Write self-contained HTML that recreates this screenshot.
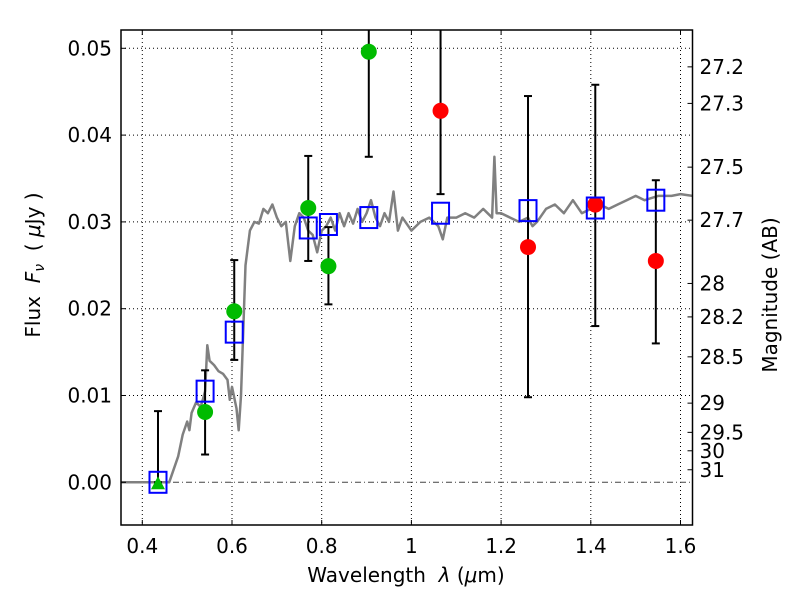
<!DOCTYPE html>
<html><head><meta charset="utf-8"><style>
html,body{margin:0;padding:0;background:#fff}
svg{display:block;font-family:"DejaVu Sans","Liberation Sans",sans-serif}
</style></head><body>
<svg id="chart" width="800" height="600" viewBox="0 0 800 600"></svg>
<script>
const xTicks=[0.4,0.6,0.8,1.0,1.2,1.4,1.6];
const xTickLabels=["0.4","0.6","0.8","1","1.2","1.4","1.6"];
const yTicks=[0,0.01,0.02,0.03,0.04,0.05];
const yTickLabels=["0.00","0.01","0.02","0.03","0.04","0.05"];
const magTicks=[27.2,27.3,27.5,27.7,28,28.2,28.5,29,29.5,30,31];
const magLabels=["27.2","27.3","27.5","27.7","28","28.2","28.5","29","29.5","30","31"];
const specWave=[0.352,0.455,0.46,0.48,0.49,0.50,0.505,0.51,0.52,0.53,0.535,0.54,0.545,0.55,0.56,0.57,0.58,0.59,0.595,0.60,0.61,0.615,0.62,0.63,0.64,0.65,0.66,0.67,0.68,0.69,0.70,0.71,0.72,0.73,0.74,0.75,0.76,0.77,0.78,0.79,0.80,0.81,0.82,0.83,0.84,0.85,0.86,0.87,0.88,0.89,0.90,0.91,0.92,0.93,0.94,0.95,0.96,0.97,0.98,1.0,1.02,1.04,1.06,1.07,1.08,1.1,1.12,1.14,1.16,1.17,1.18,1.185,1.19,1.2,1.22,1.24,1.26,1.27,1.28,1.3,1.32,1.34,1.36,1.38,1.4,1.42,1.44,1.46,1.48,1.5,1.52,1.55,1.58,1.6,1.627];
const specFlux=[0,0,0,0.003,0.0055,0.007,0.006,0.008,0.0092,0.0087,0.0095,0.0105,0.0158,0.014,0.0135,0.0128,0.0125,0.0118,0.0095,0.011,0.0085,0.006,0.010,0.025,0.029,0.030,0.0298,0.0315,0.031,0.032,0.0305,0.0295,0.030,0.0255,0.0295,0.031,0.0305,0.029,0.0285,0.0265,0.029,0.0295,0.0305,0.029,0.031,0.0295,0.031,0.0298,0.0315,0.030,0.031,0.0325,0.0305,0.0295,0.031,0.030,0.0335,0.029,0.0305,0.029,0.030,0.0305,0.0295,0.028,0.0305,0.0305,0.031,0.0305,0.0315,0.031,0.0305,0.0375,0.031,0.031,0.0305,0.030,0.0305,0.0295,0.030,0.0315,0.032,0.031,0.0325,0.031,0.0315,0.032,0.0315,0.032,0.0325,0.033,0.0325,0.033,0.033,0.0332,0.033];
const modelWave=[0.435,0.54,0.605,0.77,0.815,0.905,1.065,1.26,1.41,1.545];
const modelFlux=[0.0,0.0105,0.0173,0.0293,0.0297,0.0305,0.031,0.0313,0.0316,0.0325];
const greenWave=[0.54,0.605,0.77,0.815,0.905];
const greenFlux=[0.0081,0.0197,0.0316,0.0249,0.0496];
const greenLo=[0.0032,0.0141,0.0255,0.0205,0.0375];
const greenHi=[0.0129,0.0256,0.0376,0.0294,0.058];
const limitWave=[0.435];
const limitFlux=[0.0];
const limitHi=[0.0082];
const redWave=[1.065,1.26,1.41,1.545];
const redFlux=[0.0428,0.0271,0.032,0.0255];
const redLo=[0.0332,0.0098,0.018,0.016];
const redHi=[0.058,0.0445,0.0458,0.0348];

const L=121,R=692.5,T=30,B=525;
const X=v=>142.3+(v-0.4)*448.5;
const Y=v=>482.3-v*8680;
const magToFlux=m=>Math.pow(10,(23.9-m)/2.5);
const svg=document.getElementById('chart');
const NS='http://www.w3.org/2000/svg';
function mk(tag,attrs,parent){const e=document.createElementNS(NS,tag);for(const k in attrs)e.setAttribute(k,attrs[k]);(parent||svg).appendChild(e);return e;}
const defs=mk('defs',{});
const cp=mk('clipPath',{id:'clip'},defs);mk('rect',{x:L,y:T,width:R-L,height:B-T},cp);

const grid=mk('g',{});


xTicks.forEach(v=>{mk('line',{x1:X(v),x2:X(v),y1:T,y2:B,stroke:'#000','stroke-width':1,'stroke-dasharray':'1,3'},grid);});
yTicks.forEach(v=>{if(v===0)return;mk('line',{x1:L,x2:R,y1:Y(v),y2:Y(v),stroke:'#000','stroke-width':1,'stroke-dasharray':'1,3'},grid);});
const zl=mk('line',{x1:L,x2:R,y1:Y(0),y2:Y(0),stroke:'#444','stroke-width':1,'stroke-dasharray':'6,3,1,3'});



const plot=mk('g',{'clip-path':'url(#clip)'});
let d='';specWave.forEach((w,i)=>{d+=(i?'L':'M')+X(w).toFixed(1)+','+Y(specFlux[i]).toFixed(1);});
const sp=mk('path',{d:d,fill:'none',stroke:'#808080','stroke-width':2.5,'stroke-linejoin':'round'},plot);



function errbar(w,lo,hi,name){const g=mk('g',{},plot);


mk('line',{x1:X(w),x2:X(w),y1:Y(lo),y2:Y(hi),stroke:'#000','stroke-width':2},g);
mk('line',{x1:X(w)-4,x2:X(w)+4,y1:Y(lo),y2:Y(lo),stroke:'#000','stroke-width':2},g);
mk('line',{x1:X(w)-4,x2:X(w)+4,y1:Y(hi),y2:Y(hi),stroke:'#000','stroke-width':2},g);}
greenWave.forEach((w,i)=>errbar(w,greenLo[i],greenHi[i],'error-bar-green-'+i));
redWave.forEach((w,i)=>errbar(w,redLo[i],redHi[i],'error-bar-red-'+i));
limitWave.forEach((w,i)=>errbar(w,limitFlux[i],limitHi[i],'error-bar-limit-'+i));

greenWave.forEach((w,i)=>{const c=mk('circle',{cx:X(w),cy:Y(greenFlux[i]),r:8,fill:'#00bb00'},plot);

});
redWave.forEach((w,i)=>{const c=mk('circle',{cx:X(w),cy:Y(redFlux[i]),r:8,fill:'#ff0000'},plot);

});
limitWave.forEach((w,i)=>{const x=X(w),y=Y(limitFlux[i]);const t=mk('polygon',{points:`${x-7},${y+7} ${x+7},${y+7} ${x},${y-6}`,fill:'#00bb00'},plot);

});
modelWave.forEach((w,i)=>{const r=mk('rect',{x:X(w)-8.5,y:Y(modelFlux[i])-10.5,width:17,height:21,fill:'none',stroke:'#0000ff','stroke-width':2},plot);

});

const fr=mk('rect',{x:L,y:T,width:R-L,height:B-T,fill:'none',stroke:'#000','stroke-width':1.5});



xTicks.forEach((v,i)=>{mk('line',{x1:X(v),x2:X(v),y1:B,y2:B-5,stroke:'#000'});mk('line',{x1:X(v),x2:X(v),y1:T,y2:T+5,stroke:'#000'});
const t=mk('text',{x:X(v),y:B+28,'text-anchor':'middle','font-size':20});t.textContent=xTickLabels[i];

});
yTicks.forEach((v,i)=>{mk('line',{x1:L,x2:L+5,y1:Y(v),y2:Y(v),stroke:'#000'});
const t=mk('text',{x:L-9,y:Y(v)+7,'text-anchor':'end','font-size':20});t.textContent=yTickLabels[i];

});
magTicks.forEach((m,i)=>{const y=Y(magToFlux(m));mk('line',{x1:R,x2:R-5,y1:y,y2:y,stroke:'#000'});
const t=mk('text',{x:R+7,y:y+7,'font-size':20});t.textContent=magLabels[i];

});

const xt=mk('text',{x:406,y:582,'text-anchor':'middle','font-size':20});
xt.innerHTML='Wavelength&#160;&#160;<tspan font-style="italic">λ</tspan> (<tspan font-style="italic">μ</tspan>m)';


const yt=mk('text',{x:0,y:0,'text-anchor':'middle','font-size':20,transform:'translate(40,265) rotate(-90)'});
yt.innerHTML='Flux&#160;&#160;<tspan font-style="italic">F</tspan><tspan font-style="italic" font-size="14" dy="4">ν</tspan><tspan dy="-4">&#160;&#160;( </tspan><tspan font-style="italic">μ</tspan>Jy )';


const rt=mk('text',{x:0,y:0,'text-anchor':'middle','font-size':20,transform:'translate(777,295) rotate(-90)'});
rt.textContent='Magnitude (AB)';


</script>
</body></html>
